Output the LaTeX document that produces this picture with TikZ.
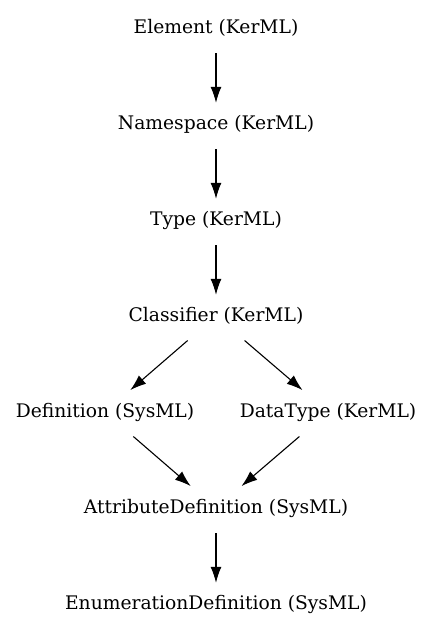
\documentclass[tikz,border=0pt]{standalone}
\usepackage{fontspec}
\setmainfont{DejaVu Serif}
\usetikzlibrary{arrows.meta}
\begin{document}
\begin{tikzpicture}[x=1pt,y=-1pt,
  lbl/.style={inner sep=0pt,minimum height=46pt,font=\fontsize{18.7}{22}\selectfont},
  conn/.style={-{Latex[length=16pt,width=11pt]},line width=1.1pt,shorten <=2pt,shorten >=-2pt}]
\useasboundingbox (0,0) rectangle (432,635);
\node[lbl] (el) at (216,28) {Element (KerML)};
\node[lbl] (ns) at (216,124) {Namespace (KerML)};
\node[lbl] (ty) at (216,220) {Type (KerML)};
\node[lbl] (cl) at (216,316) {Classifier (KerML)};
\node[lbl] (de) at (105,412) {Definition (SysML)};
\node[lbl] (dt) at (328,412) {DataType (KerML)};
\node[lbl] (ad) at (216,508) {AttributeDefinition (SysML)};
\node[lbl] (en) at (216,604) {EnumerationDefinition (SysML)};
\draw[conn] (el) -- (ns);
\draw[conn] (ns) -- (ty);
\draw[conn] (ty) -- (cl);
\draw[conn] (cl) -- (de);
\draw[conn] (cl) -- (dt);
\draw[conn] (de) -- (ad);
\draw[conn] (dt) -- (ad);
\draw[conn] (ad) -- (en);
\end{tikzpicture}
\end{document}
